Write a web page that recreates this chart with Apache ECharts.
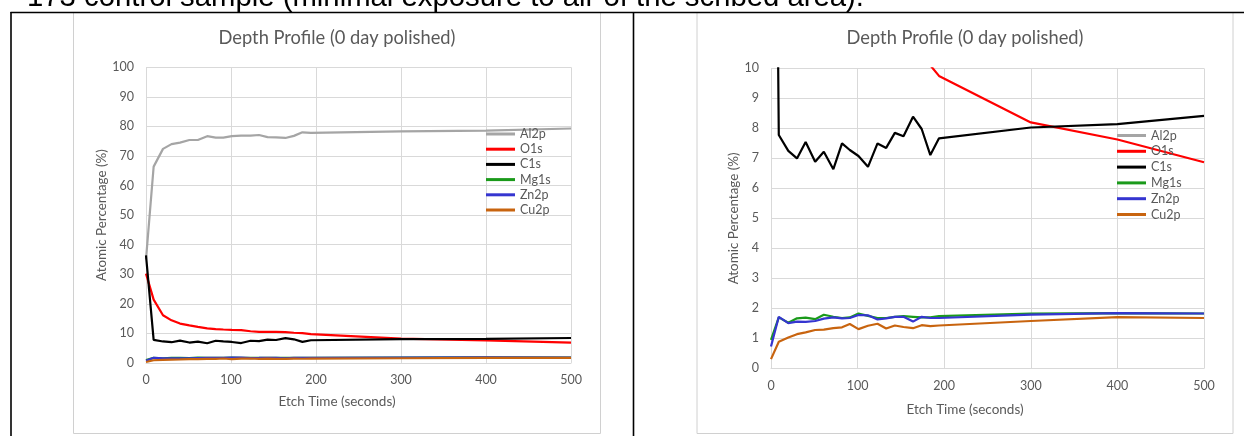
<!DOCTYPE html>
<html>
<head>
<meta charset="utf-8">
<script src="https://cdn.jsdelivr.net/npm/echarts@6/dist/echarts.min.js"></script>
<style>
  html, body { margin: 0; padding: 0; background: #ffffff; }
  #chart { width: 1244px; height: 436px; }
</style>
</head>
<body>
<div id="chart"></div>
<script>
// ---- data ----
const pageHeading = '173 control sample (minimal exposure to air of the scribed area).';
const chartTitle = 'Depth Profile (0 day polished)';
const xAxisTitle = 'Etch Time (seconds)';
const yAxisTitle = 'Atomic Percentage (%)';
const seriesNames = ['Al2p', 'O1s', 'C1s', 'Mg1s', 'Zn2p', 'Cu2p'];
const etchTimes = [0, 9, 20, 30, 40, 51, 61, 72, 82, 91, 101, 112, 123, 133, 143, 153, 164, 174, 184, 194, 300, 400, 500];
const al2p = [35.0, 66.4, 72.4, 74.0, 74.5, 75.4, 75.4, 76.7, 76.2, 76.2, 76.7, 76.9, 76.9, 77.1, 76.4, 76.3, 76.1, 76.8, 78.0, 77.8, 78.3, 78.6, 79.3];
const o1s  = [30.2, 21.4, 16.1, 14.4, 13.3, 12.7, 12.2, 11.7, 11.4, 11.3, 11.2, 11.1, 10.7, 10.5, 10.5, 10.5, 10.4, 10.2, 10.1, 9.75, 8.2, 7.63, 6.87];
const c1s  = [36.4, 7.78, 7.25, 7.0, 7.55, 6.89, 7.22, 6.64, 7.5, 7.28, 7.08, 6.72, 7.5, 7.35, 7.85, 7.74, 8.39, 7.98, 7.11, 7.67, 8.03, 8.14, 8.42];
const mg1s = [0.95, 1.70, 1.52, 1.67, 1.69, 1.64, 1.79, 1.72, 1.68, 1.70, 1.83, 1.75, 1.68, 1.68, 1.72, 1.74, 1.72, 1.70, 1.70, 1.74, 1.83, 1.84, 1.83];
const zn2p = [0.73, 1.72, 1.51, 1.56, 1.55, 1.58, 1.66, 1.70, 1.67, 1.68, 1.78, 1.77, 1.63, 1.67, 1.72, 1.72, 1.56, 1.72, 1.68, 1.68, 1.79, 1.84, 1.83];
const cu2p = [0.31, 0.89, 1.03, 1.14, 1.20, 1.28, 1.29, 1.34, 1.37, 1.48, 1.31, 1.42, 1.49, 1.33, 1.43, 1.38, 1.34, 1.44, 1.41, 1.43, 1.58, 1.71, 1.68];
const seriesValues = [al2p, o1s, c1s, mg1s, zn2p, cu2p];
const seriesColors = ['#a5a5a5', '#ff0000', '#000000', '#1a9a1a', '#3535d0', '#c8640f'];
const yMaxes = [100, 10];
const yIntervals = [10, 1];

// ---- layout / style ----
const FONT = 'Lato';
const TXT = '#595959';
const GRIDC = '#d9d9d9';
const grids = [
  { left: 146, top: 67.3, width: 425, height: 295.6 },
  { left: 771, top: 68.4, width: 433, height: 300 }
];
const frames = [ { x1: 73.5, x2: 600.5 }, { x1: 697, x2: 1233 } ];
const legendPos = [ { left: 486, top: 127.5, gap: 2.2 }, { left: 1117, top: 129, gap: 2.8 } ];
const yNameGap = [35, 30];

const chart = echarts.init(document.getElementById('chart'), null, { renderer: 'canvas' });

const xAxes = [], yAxes = [], series = [], titles = [], legends = [];
grids.forEach((g, gi) => {
  const frameCenter = (frames[gi].x1 + frames[gi].x2) / 2;
  const plotCenter = g.left + g.width / 2;
  const shift = plotCenter - frameCenter;
  xAxes.push({
    type: 'value', gridIndex: gi, min: 0, max: 500, interval: 100,
    axisLine: { show: true, lineStyle: { color: GRIDC, width: 1 } },
    axisTick: { show: false },
    axisLabel: { color: TXT, fontSize: 12.5, fontFamily: FONT, margin: 11 },
    splitLine: { show: true, lineStyle: { color: GRIDC, width: 1 } },
    name: xAxisTitle, nameLocation: 'middle', nameGap: gi === 0 ? 32 : 34,
    nameTextStyle: { color: TXT, fontSize: 13.5, fontFamily: FONT, padding: [0, shift * 2, 0, 0] }
  });
  yAxes.push({
    type: 'value', gridIndex: gi, min: 0, max: yMaxes[gi], interval: yIntervals[gi],
    axisLine: { show: false },
    axisTick: { show: false },
    axisLabel: { color: TXT, fontSize: 12.5, fontFamily: FONT, margin: 12 },
    splitLine: { show: true, lineStyle: { color: GRIDC, width: 1 } },
    name: yAxisTitle, nameLocation: 'middle', nameGap: yNameGap[gi],
    nameTextStyle: { color: TXT, fontSize: 13.4, fontFamily: FONT }
  });
  seriesNames.forEach((nm, si) => {
    series.push({
      type: 'line', name: nm, xAxisIndex: gi, yAxisIndex: gi,
      data: etchTimes.map((t, k) => [t, seriesValues[si][k]]),
      showSymbol: false, symbol: 'none', smooth: false, clip: true,
      lineStyle: { color: seriesColors[si], width: 2.2 },
      itemStyle: { color: seriesColors[si] },
      emphasis: { disabled: true }, animation: false
    });
  });
  titles.push({
    text: chartTitle, left: frameCenter, top: 29, textAlign: 'center', padding: 0,
    textStyle: { color: TXT, fontSize: 18.3, fontWeight: 'normal', fontFamily: FONT }
  });
  legends.push({
    orient: 'vertical', left: legendPos[gi].left, top: legendPos[gi].top, padding: 0,
    itemWidth: 29, itemHeight: 3, icon: 'rect', itemGap: legendPos[gi].gap,
    textStyle: { color: TXT, fontSize: 12.5, fontFamily: FONT, lineHeight: 13 },
    data: seriesNames, selectedMode: false
  });
});

const graphics = [];
frames.forEach(f => {
  graphics.push({ type: 'polyline', z: 1, shape: { points: [[f.x1, 13], [f.x1, 433.5], [f.x2, 433.5], [f.x2, 13]] },
    style: { stroke: '#d0d0d0', lineWidth: 1, fill: null } });
});
graphics.push({ type: 'line', z: 5, shape: { x1: 10.5, y1: 12.5, x2: 1244, y2: 12.5 }, style: { stroke: '#000', lineWidth: 1.6 } });
graphics.push({ type: 'line', z: 5, shape: { x1: 11, y1: 12, x2: 11, y2: 436 }, style: { stroke: '#000', lineWidth: 1.6 } });
graphics.push({ type: 'line', z: 5, shape: { x1: 633.5, y1: 12, x2: 633.5, y2: 436 }, style: { stroke: '#000', lineWidth: 1.6 } });
graphics.push({ type: 'text', z: 5, x: 27, y: -2.5,
  style: { text: pageHeading, fill: '#000', font: '29.3px "Liberation Sans", Arial, sans-serif', textAlign: 'left', textVerticalAlign: 'middle' } });

chart.setOption({
  animation: false,
  backgroundColor: '#ffffff',
  title: titles,
  legend: legends,
  grid: grids.map(g => Object.assign({ containLabel: false }, g)),
  xAxis: xAxes,
  yAxis: yAxes,
  series: series,
  graphic: graphics
});
</script>
</body>
</html>
